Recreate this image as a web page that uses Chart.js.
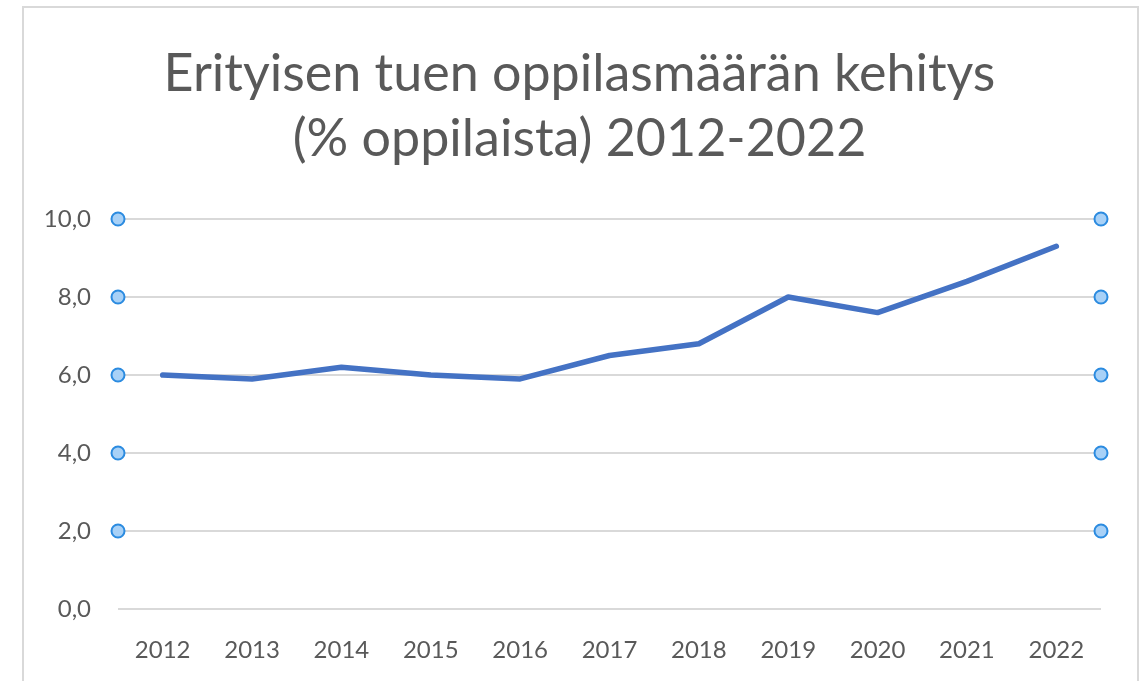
<!DOCTYPE html>
<html>
<head>
<meta charset="utf-8">
<script src="https://cdn.jsdelivr.net/npm/chart.js@4/dist/chart.umd.min.js"></script>
<style>
  html, body { margin: 0; padding: 0; background: #fff; }
  #frame { position: absolute; left: 22px; top: 6px; width: 1113px; height: 700px; border: 2px solid #d9d9d9; }
  #wrap { position: absolute; left: 0; top: 0; width: 1143px; height: 681px; }
</style>
</head>
<body>
<div id="frame"></div>
<div id="wrap"><canvas id="chart"></canvas></div>
<script>
// data
const years = ['2012', '2013', '2014', '2015', '2016', '2017', '2018', '2019', '2020', '2021', '2022'];
const shares = [6.0, 5.9, 6.2, 6.0, 5.9, 6.5, 6.8, 8.0, 7.6, 8.4, 9.3];
const titleLines = ['Erityisen tuen oppilasmäärän kehitys', '(% oppilaista) 2012-2022'];
const handleValues = [2, 4, 6, 8, 10];

const grey = '#595959';

// little selection handles on both ends of the gridlines
const handles = {
  id: 'handles',
  afterDraw(chart) {
    const ctx = chart.ctx;
    const y = chart.scales.y;
    const area = chart.chartArea;
    ctx.save();
    handleValues.forEach(v => {
      [area.left, area.right].forEach(x => {
        ctx.beginPath();
        ctx.arc(x, y.getPixelForValue(v), 6.5, 0, Math.PI * 2);
        ctx.fillStyle = '#a8d1f7';
        ctx.fill();
        ctx.lineWidth = 2;
        ctx.strokeStyle = '#2b8be0';
        ctx.stroke();
      });
    });
    ctx.restore();
  }
};

new Chart(document.getElementById('chart'), {
  type: 'line',
  data: {
    labels: years,
    datasets: [{
      data: shares,
      borderColor: '#4472c4',
      borderWidth: 5.5,
      borderJoinStyle: 'round',
      borderCapStyle: 'round',
      pointRadius: 0,
      tension: 0,
      fill: false
    }]
  },
  options: {
    responsive: true,
    maintainAspectRatio: false,
    animation: false,
    // padding matches the grey frame so the title centres on it
    layout: { padding: { left: 22, right: 6, top: 0, bottom: 0 } },
    plugins: {
      legend: { display: false },
      tooltip: { enabled: false },
      title: {
        display: true,
        text: titleLines,
        color: grey,
        font: { family: 'Lato', size: 52, weight: 'normal', lineHeight: 1.25 },
        padding: { top: 42, bottom: 47 }
      }
    },
    scales: {
      x: {
        offset: true,
        grid: { display: false, drawTicks: false },
        border: { display: false },
        ticks: { color: grey, font: { family: 'Lato', size: 24 }, padding: 27 },
        afterFit(scale) { scale.height = 72; }
      },
      y: {
        min: 0,
        max: 10,
        grid: { color: '#d9d9d9', lineWidth: 2, drawTicks: false },
        border: { display: false },
        ticks: {
          stepSize: 2,
          color: grey,
          font: { family: 'Lato', size: 24 },
          padding: 27,
          callback: v => v.toFixed(1).replace('.', ',')
        },
        afterFit(scale) { scale.width = 96; }
      },
      // empty spacer on the right side of the plot
      yRight: {
        position: 'right',
        grid: { display: false, drawTicks: false },
        border: { display: false },
        ticks: { display: false },
        afterFit(scale) { scale.width = 36; }
      }
    }
  },
  plugins: [handles]
});
</script>
</body>
</html>
